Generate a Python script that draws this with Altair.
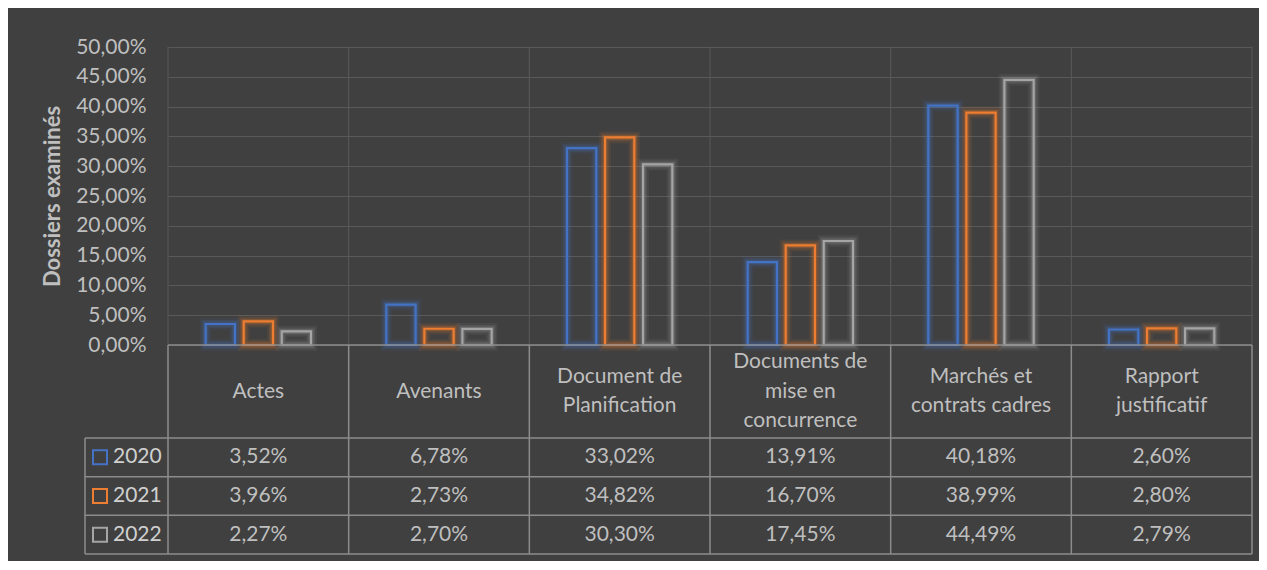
import altair as alt
import pandas as pd

# ---------------- data ----------------
categories = ["Actes", "Avenants", "Document de Planification",
              "Documents de mise en concurrence", "Marchés et contrats cadres",
              "Rapport justificatif"]
header_labels = ["Actes", "Avenants", "Document de\nPlanification",
                 "Documents de\nmise en\nconcurrence", "Marchés et\ncontrats cadres",
                 "Rapport\njustificatif"]
years = ["2020", "2021", "2022"]
v2020 = [3.52, 6.78, 33.02, 13.91, 40.18, 2.60]
v2021 = [3.96, 2.73, 34.82, 16.70, 38.99, 2.80]
v2022 = [2.27, 2.70, 30.30, 17.45, 44.49, 2.79]
y_ticks = [0, 5, 10, 15, 20, 25, 30, 35, 40, 45, 50]
colors = ["#4472C4", "#ED7D31", "#A5A5A5"]

rows = []
for yr, vals in zip(years, [v2020, v2021, v2022]):
    for c, v in zip(categories, vals):
        rows.append({"cat": c, "year": yr, "value": v / 100})
df = pd.DataFrame(rows)
cat_df = pd.DataFrame({"cat": categories, "header": header_labels})
year_df = pd.DataFrame({"year": years})
one_df = pd.DataFrame({"k": [0]})

# ---------------- layout ----------------
FONT = "Lato"
FS = 21
LH = 29.5
TXT = "#bfbfbf"
GRID = "#595959"
TLINE = "#8c8c8c"
W = 1084
PLOT_H = 298
HEAD_BOTTOM = 391
TABLE_BOTTOM = 507
LEFT_COL = -83

x_scale = alt.Scale(domain=categories, paddingInner=0, paddingOuter=0)
x_enc = alt.X("cat:N", scale=x_scale, axis=None)
y_bar_scale = alt.Scale(domain=[0, 0.5], range=[PLOT_H, 0], nice=False, zero=True)
row_scale = alt.Scale(domain=years, range=[HEAD_BOTTOM, TABLE_BOTTOM],
                      paddingInner=0, paddingOuter=0)
color_scale = alt.Scale(domain=years, range=colors)
xoff = alt.XOffset("year:N", scale=alt.Scale(domain=years, paddingInner=0.23,
                                               paddingOuter=0.99))

y_axis = alt.Axis(values=[t / 100 for t in y_ticks],
                  labelExpr="replace(format(datum.value, '.2%'), '.', ',')",
                  title="Dossiers examinés", grid=True, gridColor=GRID,
                  gridWidth=1, domain=False, ticks=False,
                  labelFont=FONT, labelFontSize=FS, labelColor=TXT,
                  labelPadding=22, titleFont=FONT, titleFontSize=22,
                  titleFontWeight="bold", titleColor=TXT, titlePadding=11)


def bar_layer(sw, op, axis):
    return alt.Chart(df).mark_bar(fillOpacity=0, strokeWidth=sw,
                                  strokeOpacity=op, strokeJoin="miter").encode(
        x=x_enc, xOffset=xoff,
        y=alt.Y("value:Q", scale=y_bar_scale, axis=axis),
        stroke=alt.Stroke("year:N", scale=color_scale, legend=None),
    )


grid_bars = bar_layer(0.01, 0, y_axis)
glow1 = bar_layer(12, 0.08, None)
glow2 = bar_layer(8, 0.13, None)
glow3 = bar_layer(5, 0.22, None)
main = bar_layer(2.2, 1.0, None)

# vertical gridlines inside plot area
vgrid = alt.Chart(cat_df).mark_rule(color=GRID, strokeWidth=1).encode(
    x=alt.X("cat:N", scale=x_scale, axis=None, bandPosition=0),
    y=alt.value(0), y2=alt.value(PLOT_H))
vgrid_right = alt.Chart(one_df).mark_rule(color=GRID, strokeWidth=1).encode(
    x=alt.value(W), y=alt.value(0), y2=alt.value(PLOT_H))

# table lines
t_vert = alt.Chart(cat_df).mark_rule(color=TLINE, strokeWidth=1.5).encode(
    x=alt.X("cat:N", scale=x_scale, axis=None, bandPosition=0),
    y=alt.value(PLOT_H), y2=alt.value(TABLE_BOTTOM))
t_right = alt.Chart(one_df).mark_rule(color=TLINE, strokeWidth=1.5).encode(
    x=alt.value(W), y=alt.value(PLOT_H), y2=alt.value(TABLE_BOTTOM))
t_top = alt.Chart(one_df).mark_rule(color=TLINE, strokeWidth=1.5).encode(
    x=alt.value(0), x2=alt.value(W), y=alt.value(PLOT_H))
t_rows = alt.Chart(year_df).mark_rule(color=TLINE, strokeWidth=1.5).encode(
    y=alt.Y("year:N", scale=row_scale, axis=None, bandPosition=0),
    x=alt.value(LEFT_COL), x2=alt.value(W))
t_bottom = alt.Chart(one_df).mark_rule(color=TLINE, strokeWidth=1.5).encode(
    x=alt.value(LEFT_COL), x2=alt.value(W), y=alt.value(TABLE_BOTTOM))
t_left = alt.Chart(one_df).mark_rule(color=TLINE, strokeWidth=1.5).encode(
    x=alt.value(LEFT_COL), y=alt.value(HEAD_BOTTOM), y2=alt.value(TABLE_BOTTOM))

# table texts (multi-line headers centred vertically in the header row)
header = alt.Chart(cat_df).transform_calculate(
    shift=f"-(length(split(datum.header, '\\n')) - 1) * {LH / 2}"
).mark_text(lineBreak="\n", font=FONT, fontSize=FS, color=TXT, lineHeight=LH,
            baseline="middle").encode(
    x=x_enc, y=alt.value((PLOT_H + HEAD_BOTTOM) / 2),
    yOffset=alt.YOffset("shift:Q", scale=None),
    text="header:N")

values = alt.Chart(df).transform_calculate(
    label="replace(format(datum.value, '.2%'), '.', ',')"
).mark_text(font=FONT, fontSize=FS, color=TXT, baseline="middle").encode(
    x=x_enc,
    y=alt.Y("year:N", scale=row_scale, axis=None),
    text="label:N")

row_labels = alt.Chart(year_df).mark_text(font=FONT, fontSize=FS, color="#d0d0d0",
                                          align="left", baseline="middle").encode(
    x=alt.value(-55),
    y=alt.Y("year:N", scale=row_scale, axis=None),
    text="year:N")

squares = alt.Chart(year_df).mark_point(shape="square", filled=False, size=196,
                                        strokeWidth=2, opacity=1).encode(
    x=alt.value(-68),
    y=alt.Y("year:N", scale=row_scale, axis=None),
    color=alt.Color("year:N", scale=color_scale, legend=None))

chart = alt.layer(
    grid_bars, vgrid, vgrid_right, glow1, glow2, glow3, main,
    t_vert, t_right, t_top, t_rows, t_bottom, t_left,
    header, values, row_labels, squares,
).resolve_scale(y="independent").properties(
    width=W, height=TABLE_BOTTOM,
    autosize=alt.AutoSizeParams(type="none"),
    padding={"left": 160, "top": 39, "right": 7, "bottom": 7},
    background="#404040",
).configure_view(stroke="transparent")

chart.save("out.html", embed_options={"renderer": "svg", "actions": False})
